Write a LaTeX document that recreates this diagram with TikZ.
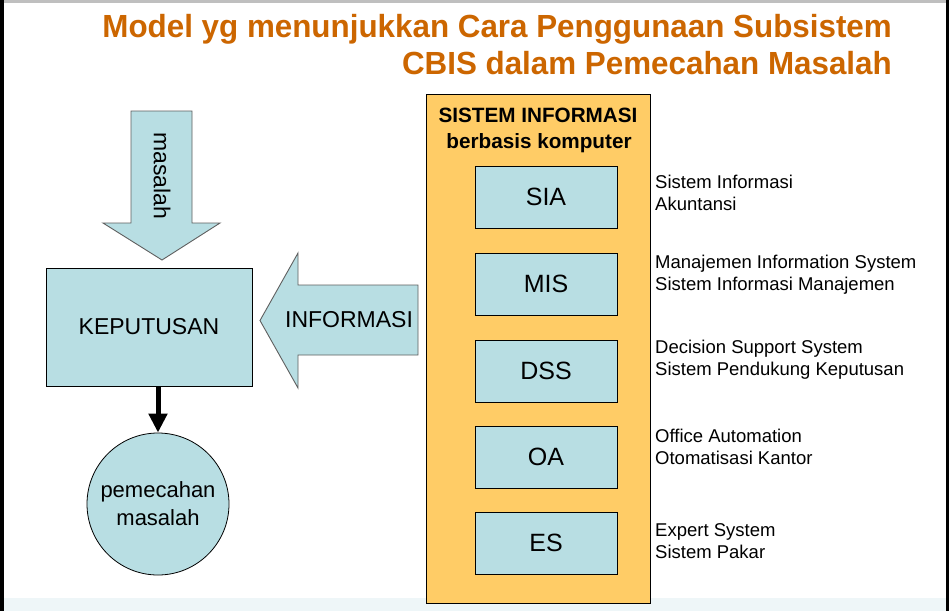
\documentclass[tikz,border=0pt]{standalone}
\usepackage{fontspec}
\setmainfont{Liberation Sans}
\usetikzlibrary{arrows.meta,calc}
\definecolor{titleor}{RGB}{204,102,0}
\definecolor{boxblue}{RGB}{184,222,227}
\definecolor{sysor}{RGB}{255,204,102}
\definecolor{edgegray}{RGB}{95,95,95}
\definecolor{faint}{RGB}{238,246,248}
\begin{document}
\begin{tikzpicture}[x=1pt,y=-1pt,
  bluebox/.style={draw=black,fill=boxblue,line width=0.8pt,inner sep=0pt},
  blockarrow/.style={draw=edgegray,fill=boxblue,line width=0.9pt,line join=miter},
  sysbox/.style={draw=black,fill=sysor,line width=1pt,inner sep=0pt},
  subbox/.style={bluebox,minimum width=142pt,minimum height=62pt,font=\fontsize{25}{30}\selectfont},
  bigtext/.style={font=\fontsize{23}{28}\selectfont},
  sidetext/.style={anchor=west,align=left,inner sep=0pt,font=\fontsize{18.5}{22}\selectfont},
  hdrtext/.style={anchor=base,inner sep=0pt,font=\fontsize{20.7}{26}\selectfont\bfseries},
  titletext/.style={anchor=base east,inner sep=0pt,text=titleor,font=\fontsize{32}{38}\selectfont\bfseries}]
\useasboundingbox (0,0) rectangle (949,611);
\fill[white] (0,0) rectangle (949,611);
\fill[faint] (4,598) rectangle (946,611);
\fill[black!25] (4,0) rectangle (946,2.5);
\fill[black] (0,0) rectangle (4,611);
\fill[black] (946,0) rectangle (949,611);

% title
\node[titletext] (t1) at (892,37) {\scalebox{0.98}[1]{Model yg menunjukkan Cara Penggunaan Subsistem}};
\node[titletext] (t2) at (892,74) {\scalebox{0.98}[1]{CBIS dalam Pemecahan Masalah}};

% masalah arrow
\draw[blockarrow] (131,111) -- (192,111) -- (192,223) -- (220,223) -- (162,260) -- (103,223) -- (131,223) -- cycle;
\node[bigtext,rotate=-90,inner sep=0pt] (mas) at (162,176) {masalah};

% keputusan
\node[bluebox,bigtext,minimum width=206pt,minimum height=118pt] (kep) at (149,327) {KEPUTUSAN};

% informasi arrow
\draw[blockarrow] (418,285) -- (298,285) -- (298,253) -- (260,320.5) -- (298,388) -- (298,355) -- (418,355) -- cycle;
\node[bigtext,inner sep=0pt] (inf) at (349,320) {INFORMASI};

% result circle
\node[bluebox,circle,minimum size=142pt,align=center,font=\fontsize{22}{28}\selectfont] (res) at (158,504) {pemecahan\\masalah};
\draw[line width=5pt,-{Triangle[length=19pt,width=18pt]}] (res.north |- kep.south) -- (res.north);

% CBIS box
\node[sysbox,minimum width=224pt,minimum height=509pt] (cbis) at (538,348.5) {};
\node[hdrtext] (h1) at (538,122) {SISTEM INFORMASI};
\node[hdrtext] (h2) at (539,148) {berbasis komputer};

\node[subbox] (sia) at (546,197) {SIA};
\node[subbox] (mis) at (546,284) {MIS};
\node[subbox] (dss) at (546,371) {DSS};
\node[subbox] (oa)  at (546,457) {OA};
\node[subbox] (es)  at (546,543) {ES};

\node[sidetext] (dsia) at (655,193) {Sistem Informasi\\Akuntansi};
\node[sidetext] (dmis) at (655,275) {Manajemen Information System\\Sistem Informasi Manajemen};
\node[sidetext] (ddss) at (655,360) {Decision Support System\\Sistem Pendukung Keputusan};
\node[sidetext] (doa)  at (655,447) {Office Automation\\Otomatisasi Kantor};
\node[sidetext] (des)  at (655,541) {Expert System\\Sistem Pakar};
\end{tikzpicture}
\end{document}
